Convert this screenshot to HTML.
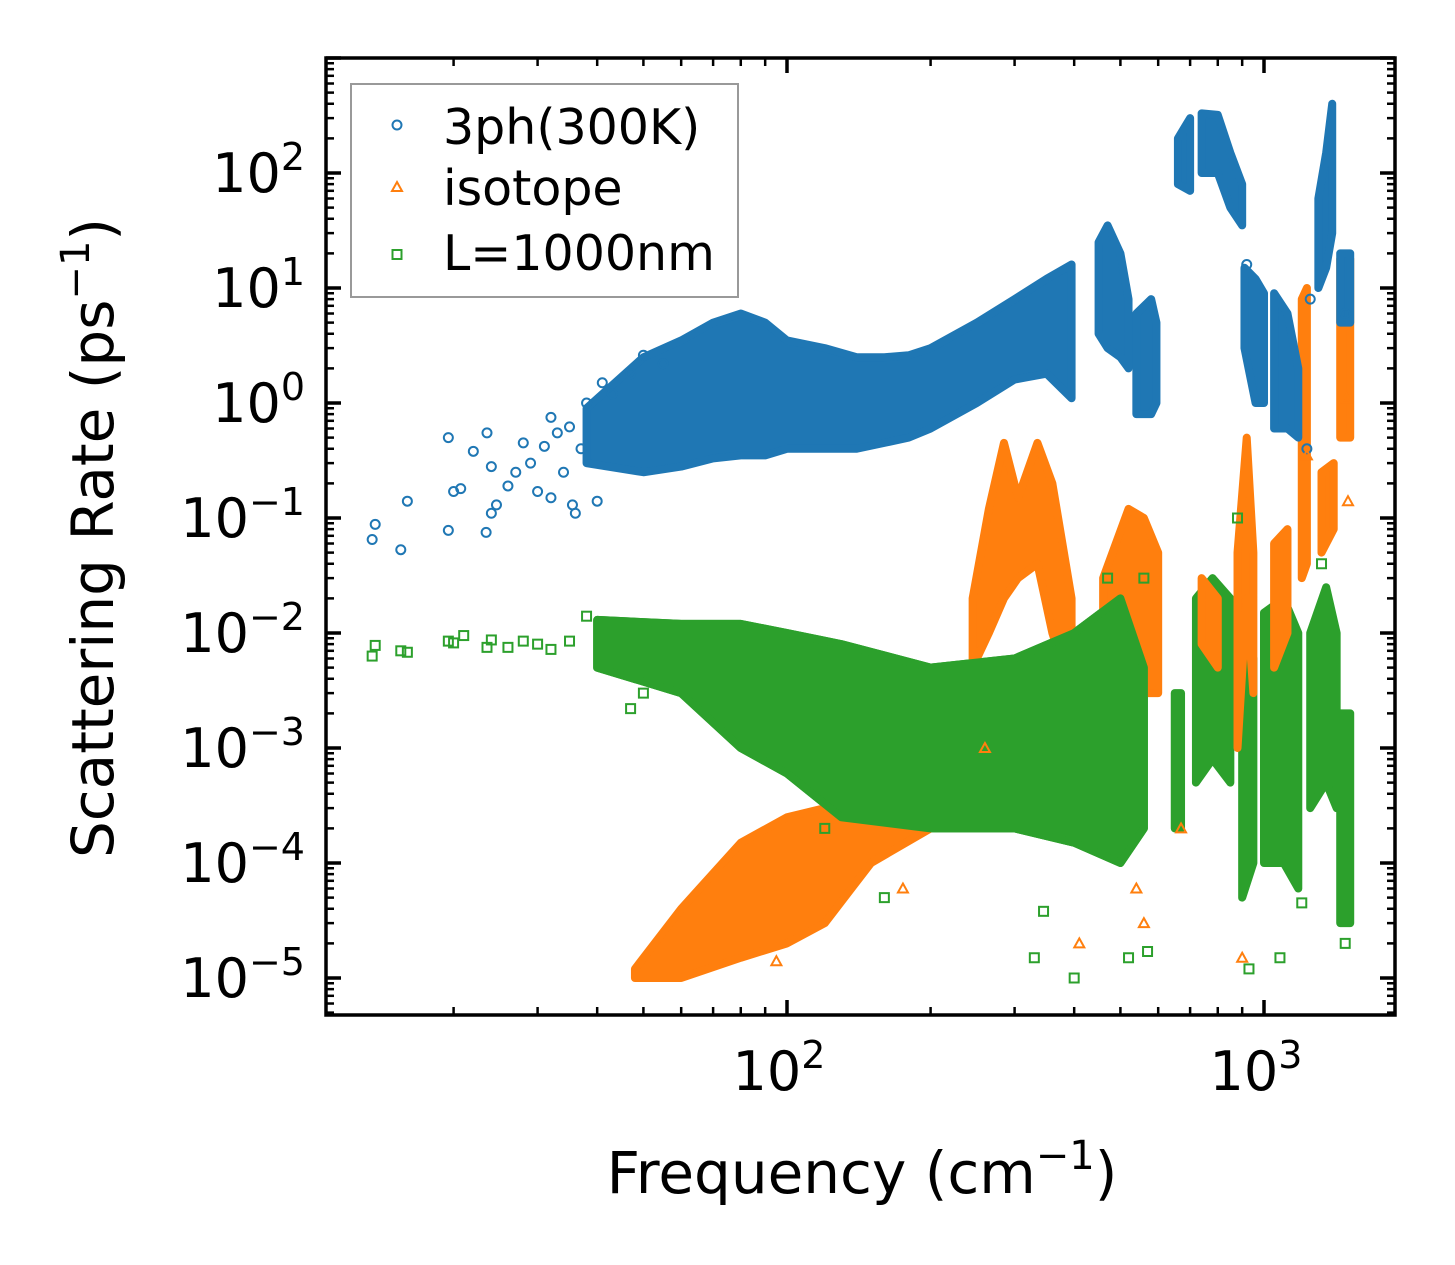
<!DOCTYPE html>
<html><head><meta charset="utf-8"><style>
html,body{margin:0;padding:0;background:#fff;}
svg{display:block;font-family:"DejaVu Sans","Liberation Sans",sans-serif;}
</style></head><body>
<svg id="chart" width="1455" height="1265" viewBox="0 0 1455 1265" xmlns="http://www.w3.org/2000/svg">
<g id="bands"></g>
<g id="pts"></g>
<g id="axes"></g>
<g id="legend">
<rect x="351" y="84" width="387" height="213" fill="#fff" fill-opacity="0.85" stroke="#999" stroke-width="2"/>
<circle cx="397" cy="125" r="4.5" fill="none" stroke="#1f77b4" stroke-width="2"/>
<text x="443" y="144" font-size="49">3ph(300K)</text>
<polygon points="397,182 402,191 392,191" fill="none" stroke="#ff7f0e" stroke-width="2"/>
<text x="443" y="205" font-size="49">isotope</text>
<rect x="392.5" y="250" width="9" height="9" fill="none" stroke="#2ca02c" stroke-width="2"/>
<text x="443" y="270" font-size="49">L=1000nm</text>
</g>
<text x="862" y="1193" font-size="58" text-anchor="middle">Frequency (cm<tspan font-size="40" dy="-24">−1</tspan><tspan dy="24">)</tspan></text>
<text transform="translate(113,538) rotate(-90)" font-size="58" text-anchor="middle">Scattering Rate (ps<tspan font-size="40" dy="-24">−1</tspan><tspan dy="24">)</tspan></text>
</svg>
<script>
const xTicks=[100,1000];
const yTicks=[1e-5,1e-4,1e-3,1e-2,1e-1,1,10,100];
const yTickLabels=["−5","−4","−3","−2","−1","0","1","2"];
const xTickLabels=["2","3"];
const blueBands=[
 [[38,0.3,0.9],[50,0.25,2.5],[60,0.28,3.5],[70,0.33,5],[80,0.35,6],[90,0.35,5],[100,0.4,3.5],[120,0.4,3],[140,0.4,2.5],[160,0.45,2.5],[180,0.5,2.6],[200,0.6,3],[250,1.0,5],[300,1.6,8],[350,1.8,12],[395,1.1,16]],
 [[450,4,25],[470,3,35],[500,2.5,20],[520,2,8]],
 [[540,0.8,6],[580,0.8,8],[595,1,5]],
 [[660,80,200],[700,70,300]],
 [[740,100,330],[800,100,320],[850,50,150],[900,35,80]],
 [[910,3,15],[960,1,12],[1000,1,9]],
 [[1050,0.6,9],[1120,0.6,6],[1180,0.5,2]],
 [[1300,10,60],[1350,15,150],[1390,30,400]],
 [[1480,5,20]]
];
const blueSparse=[[13.5,0.065],[13.7,0.088],[15.5,0.053],[16,0.14],[19.5,0.5],[19.5,0.078],[20,0.17],[20.7,0.18],[22,0.38],[23.5,0.55],[23.4,0.075],[24,0.11],[24,0.28],[24.6,0.13],[26,0.19],[27,0.25],[28,0.45],[29,0.3],[30,0.17],[31,0.42],[32,0.75],[32,0.15],[33,0.55],[34,0.25],[35,0.62],[35.5,0.13],[36,0.11],[37,0.4],[38,1.0],[40,0.14],[41,1.5],[43,1.2],[47,1.8],[50,2.6],[55,2.2],[1230,0.4],[1250,8],[920,16],[1480,6]];
const orangeBands=[
 [[48,1e-5,1.2e-5],[60,1e-5,4e-5],[80,1.5e-5,1.5e-4],[100,2e-5,2.5e-4],[120,3e-5,3e-4],[150,1e-4,5e-4],[200,2e-4,1e-3],[240,4e-4,3e-3]],
 [[245,0.005,0.02],[265,0.01,0.12],[285,0.02,0.45],[305,0.03,0.15],[335,0.04,0.45],[360,0.01,0.2],[395,0.003,0.02]],
 [[460,0.002,0.03],[520,0.003,0.12],[560,0.003,0.1],[600,0.003,0.05]],
 [[740,0.008,0.03],[800,0.005,0.02]],
 [[880,0.001,0.05],[920,0.02,0.5],[950,0.003,0.05]],
 [[1050,0.005,0.06],[1120,0.01,0.08]],
 [[1200,0.03,8],[1230,0.04,10]],
 [[1320,0.05,0.25],[1400,0.08,0.3]],
 [[1480,0.5,18]]
];
const orangeSparse=[[175,6e-5],[95,1.4e-5],[410,2e-5],[560,3e-5],[1230,0.35],[1490,1.1],[1500,0.14],[900,1.5e-5],[670,2e-4],[540,6e-5],[260,1e-3]];
const greenBands=[
 [[40,0.005,0.013],[60,0.003,0.012],[80,0.001,0.012],[100,6e-4,0.01],[130,2.5e-4,0.008],[200,2e-4,0.005],[300,2e-4,0.006],[400,1.5e-4,0.01],[500,1e-4,0.02],[560,2e-4,0.005]],
 [[650,2e-4,0.003],[670,2e-4,0.003]],
 [[720,5e-4,0.02],[780,8e-4,0.03],[850,5e-4,0.02]],
 [[900,5e-5,0.006],[950,1e-4,0.006]],
 [[1000,1e-4,0.015],[1100,1e-4,0.02],[1180,6e-5,0.01]],
 [[1250,3e-4,0.01],[1350,5e-4,0.025],[1420,3e-4,0.01]],
 [[1480,3e-5,0.002]]
];
const greenSparse=[[13.5,0.0063],[13.7,0.0078],[15.5,0.007],[16,0.0068],[19.5,0.0085],[20,0.0082],[21,0.0095],[23.5,0.0075],[24,0.0087],[26,0.0075],[28,0.0085],[30,0.008],[32,0.0072],[35,0.0085],[38,0.014],[47,0.0022],[50,0.003],[345,3.8e-5],[330,1.5e-5],[400,1e-5],[520,1.5e-5],[570,1.7e-5],[1080,1.5e-5],[930,1.2e-5],[1200,4.5e-5],[1480,2e-5],[880,0.1],[560,0.03],[470,0.03],[160,5e-5],[120,2e-4],[1320,0.04]];
const X0=787,XD=477,Y0=403,YD=115,L=326,R=1395,T=58,B=1015;
const xs=v=>X0+(Math.log10(v)-2)*XD;
const ys=v=>Y0-Math.log10(v)*YD;
const NS="http://www.w3.org/2000/svg";
function mk(tag,attrs,parent){const e=document.createElementNS(NS,tag);for(const k in attrs)e.setAttribute(k,attrs[k]);parent.appendChild(e);return e;}
const bandsG=document.getElementById('bands'),ptsG=document.getElementById('pts'),axG=document.getElementById('axes');
function drawBands(bands,color,name){
 bands.forEach(seg=>{
  let pts=seg.map(d=>xs(d[0])+','+ys(d[2]));
  pts=pts.concat(seg.slice().reverse().map(d=>xs(d[0])+','+ys(d[1])));
  if(seg.length===1){const d=seg[0];pts=[(xs(d[0])-5)+','+ys(d[2]),(xs(d[0])+5)+','+ys(d[2]),(xs(d[0])+5)+','+ys(d[1]),(xs(d[0])-5)+','+ys(d[1])];}
  const p=mk('polygon',{points:pts.join(' '),fill:color,stroke:color,'stroke-width':8,'stroke-linejoin':'round'},bandsG);
  
  
 });
}
function drawPts(arr,color,shape,name){
 arr.forEach(d=>{
  const x=xs(d[0]),y=ys(d[1]);let e;
  if(shape==='c')e=mk('circle',{cx:x,cy:y,r:4.5,fill:'none',stroke:color,'stroke-width':2},ptsG);
  else if(shape==='t')e=mk('polygon',{points:`${x},${y-5} ${x+5},${y+4} ${x-5},${y+4}`,fill:'none',stroke:color,'stroke-width':2},ptsG);
  else e=mk('rect',{x:x-4.5,y:y-4.5,width:9,height:9,fill:'none',stroke:color,'stroke-width':2},ptsG);
  
  
 });
}
drawBands(greenBands,'#2ca02c','l1000nm');
drawBands(orangeBands,'#ff7f0e','isotope');
drawBands(blueBands,'#1f77b4','3ph');
drawBands(greenBands.slice(0,1),'#2ca02c','l1000nm-front');
drawPts(blueSparse,'#1f77b4','c','3ph');
drawPts(orangeSparse,'#ff7f0e','t','isotope');
drawPts(greenSparse,'#2ca02c','s','l1000nm');
const fr=mk('rect',{x:L,y:T,width:R-L,height:B-T,fill:'none',stroke:'#000','stroke-width':3.5},axG);


for(let dec=1;dec<=3;dec++)for(let m=1;m<10;m++){const v=m*Math.pow(10,dec);const x=xs(v);if(x<L||x>R)continue;const len=m===1?15:8;
 const t1=mk('line',{x1:x,y1:B,x2:x,y2:B-len,stroke:'#000','stroke-width':m===1?3.5:2.5},axG);
 
 
 const t2=mk('line',{x1:x,y1:T,x2:x,y2:T+len,stroke:'#000','stroke-width':m===1?3.5:2.5},axG);
 
 }
xTicks.forEach((v,i)=>{const t=mk('text',{x:xs(v)-8,y:1090,'font-size':54,'text-anchor':'middle'},axG);t.textContent='10';
 
 
 const s=mk('tspan',{'font-size':38,dy:-22},t);s.textContent=xTickLabels[i];});
for(let dec=-6;dec<=3;dec++)for(let m=1;m<10;m++){const v=m*Math.pow(10,dec);const y=ys(v);if(y<T||y>B)continue;const len=m===1?15:8;
 const t1=mk('line',{x1:L,y1:y,x2:L+len,y2:y,stroke:'#000','stroke-width':m===1?3.5:2.5},axG);
 
 
 const t2=mk('line',{x1:R,y1:y,x2:R-len,y2:y,stroke:'#000','stroke-width':m===1?3.5:2.5},axG);
 
 }
yTicks.forEach((v,i)=>{const t=mk('text',{x:305,y:ys(v)+19,'font-size':54,'text-anchor':'end'},axG);t.textContent='10';
 
 
 const s=mk('tspan',{'font-size':38,dy:-22},t);s.textContent=yTickLabels[i];});
</script>
</body></html>
